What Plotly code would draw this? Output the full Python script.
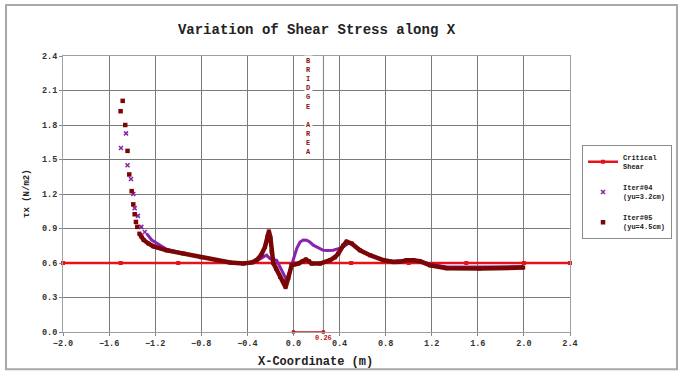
import plotly.graph_objects as go

# ---- data -------------------------------------------------------------
crit_x = [-2.0, -1.5, -1.0, -0.5, 0.0, 0.5, 1.0, 1.5, 2.0, 2.4]
crit_y = [0.6, 0.6, 0.6, 0.6, 0.6, 0.6, 0.6, 0.6, 0.6, 0.6]

# Iter#04 (yu = 3.2 cm): scattered points on the steep upstream rise
it04_head_x = [-1.497, -1.453, -1.44, -1.41, -1.39, -1.378, -1.35, -1.32, -1.29]
it04_head_y = [1.60, 1.727, 1.45, 1.33, 1.20, 1.077, 1.01, 0.914, 0.87]
# Iter#04 continuous profile
it04_x = [-1.274, -1.23, -1.15, -1.1, -0.956, -0.8, -0.667, -0.55, -0.436, -0.36,
          -0.30, -0.25, -0.233, -0.204, -0.146, -0.102, -0.059, -0.03, 0.005, 0.03,
          0.057, 0.085, 0.115, 0.145, 0.172, 0.215, 0.259, 0.30, 0.345, 0.39,
          0.432, 0.476, 0.505, 0.577, 0.664, 0.779, 0.866, 0.98, 1.098, 1.185,
          1.33, 1.618, 1.994]
it04_y = [0.856, 0.80, 0.75, 0.72, 0.685, 0.65, 0.625, 0.605, 0.595, 0.605,
          0.63, 0.66, 0.668, 0.638, 0.624, 0.537, 0.45, 0.537, 0.653, 0.73,
          0.783, 0.80, 0.798, 0.78, 0.755, 0.73, 0.711, 0.708, 0.711, 0.725,
          0.74, 0.769, 0.77, 0.711, 0.668, 0.63, 0.615, 0.625, 0.62, 0.59,
          0.565, 0.565, 0.57]

# Iter#05 (yu = 4.5 cm): scattered points on the steep upstream rise
it05_head_x = [-1.482, -1.50, -1.46, -1.44, -1.425, -1.404, -1.39, -1.378, -1.367, -1.355]
it05_head_y = [2.01, 1.92, 1.80, 1.575, 1.37, 1.225, 1.11, 1.024, 0.957, 0.914]
# Iter#05 continuous profile
it05_x = [-1.338, -1.32, -1.30, -1.26, -1.216, -1.1, -0.956, -0.8, -0.667, -0.55,
          -0.436, -0.36, -0.32, -0.28, -0.247, -0.225, -0.213, -0.20, -0.19, -0.175,
          -0.15, -0.117, -0.09, -0.068, -0.045, -0.016, 0.042, 0.08, 0.108, 0.135,
          0.158, 0.23, 0.317, 0.36, 0.389, 0.43, 0.461, 0.505, 0.577, 0.664,
          0.779, 0.866, 0.92, 0.982, 1.04, 1.098, 1.185, 1.33, 1.618, 1.994]
it05_y = [0.856, 0.83, 0.80, 0.77, 0.745, 0.71, 0.683, 0.65, 0.625, 0.605,
          0.595, 0.605, 0.625, 0.67, 0.74, 0.83, 0.875, 0.82, 0.70, 0.60,
          0.55, 0.48, 0.44, 0.39, 0.47, 0.58, 0.595, 0.615, 0.63, 0.615,
          0.595, 0.595, 0.624, 0.65, 0.682, 0.75, 0.785, 0.77, 0.711, 0.668,
          0.625, 0.609, 0.61, 0.625, 0.625, 0.615, 0.58, 0.555, 0.552, 0.56]

bridge_start = 0.0
bridge_width = 0.26

x_ticks = [-2.0, -1.6, -1.2, -0.8, -0.4, 0.0, 0.4, 0.8, 1.2, 1.6, 2.0, 2.4]
y_ticks = [0.0, 0.3, 0.6, 0.9, 1.2, 1.5, 1.8, 2.1, 2.4]

# ---- styling ----------------------------------------------------------
FONT = "Liberation Mono"
RED = "#e3141b"
PURPLE = "#8a22b0"
MAROON = "#7a0606"
GRID = "#7a7a7a"

fig = go.Figure()

fig.add_trace(go.Scatter(
    x=crit_x, y=crit_y, mode="lines+markers", name="Critical<br>Shear",
    legendgroup="c", line=dict(color=RED, width=2.5),
    marker=dict(symbol="square", size=4, color=RED), cliponaxis=False))

fig.add_trace(go.Scatter(
    x=it04_head_x, y=it04_head_y, mode="markers", name="Iter#04<br>(yu=3.2cm)",
    legendgroup="a", marker=dict(symbol="x-thin", size=4,
                                 line=dict(color=PURPLE, width=1.5), color=PURPLE)))
fig.add_trace(go.Scatter(
    x=it04_x, y=it04_y, mode="lines", legendgroup="a", showlegend=False,
    line=dict(color=PURPLE, width=3)))

fig.add_trace(go.Scatter(
    x=it05_head_x, y=it05_head_y, mode="markers", name="Iter#05<br>(yu=4.5cm)",
    legendgroup="b", marker=dict(symbol="square", size=4.5, color=MAROON)))
fig.add_trace(go.Scatter(
    x=it05_x, y=it05_y, mode="lines+markers", legendgroup="b", showlegend=False,
    line=dict(color=MAROON, width=4.5),
    marker=dict(symbol="square", size=4, color=MAROON)))

# bridge width dimension along the bed
fig.add_trace(go.Scatter(
    x=[bridge_start, bridge_start + bridge_width], y=[0.0, 0.0],
    mode="lines+markers", showlegend=False, cliponaxis=False,
    line=dict(color="#c0141b", width=1.5),
    marker=dict(symbol="circle", size=4, color="#c0141b")))

# downstream face of the bridge
fig.add_shape(type="line", xref="x", yref="y",
              x0=bridge_start + bridge_width, x1=bridge_start + bridge_width,
              y0=0, y1=2.4, line=dict(color=GRID, width=1), layer="below")

fig.add_annotation(x=bridge_start + bridge_width, y=0, yshift=-6, yanchor="middle",
                   showarrow=False, text=f"<b>{bridge_width:.2f}</b>",
                   font=dict(family=FONT, size=7, color="#c0141b"))

fig.add_annotation(x=bridge_start + bridge_width / 2, y=1.96, showarrow=False,
                   text="<b>B<br>R<br>I<br>D<br>G<br>E<br> <br>A<br>R<br>E<br>A</b>",
                   bgcolor="white", borderpad=1,
                   font=dict(family=FONT, size=7, color="#8b1010"))

# axis titles
fig.add_annotation(xref="paper", yref="paper", x=0.499, y=-0.11,
                   xanchor="center", yanchor="middle",
                   text="<b>X-Coordinate (m)</b>", showarrow=False,
                   font=dict(family=FONT, size=12, color="#222"))
fig.add_annotation(xref="paper", yref="paper", x=-0.071, y=0.5, textangle=-90,
                   xanchor="center", yanchor="middle",
                   text="<b>τx (N/m2)</b>", showarrow=False,
                   font=dict(family=FONT, size=9, color="#222"))

# outer frame
fig.add_shape(type="rect", xref="paper", yref="paper",
              x0=-0.1124, x1=1.211, y0=-0.1353, y1=1.185,
              line=dict(color="#a8a8a8", width=2), layer="below")

fig.update_layout(
    width=684, height=371,
    margin=dict(l=63, r=114, t=56, b=39),
    paper_bgcolor="white", plot_bgcolor="white",
    title=dict(text="<b>Variation of Shear Stress along X</b>",
               x=0.5, xref="paper", y=0.922, yanchor="middle",
               font=dict(family=FONT, size=14, color="#222")),
    showlegend=True,
    legend=dict(x=1.0237, y=0.677, xanchor="left", yanchor="top",
                bordercolor="#8c8c8c", borderwidth=1, bgcolor="white",
                font=dict(family=FONT, size=7, color="#222", weight="bold"),
                traceorder="grouped", tracegroupgap=9, itemwidth=30),
    xaxis=dict(range=[-2.0, 2.4], tickvals=x_ticks, tickformat=".1f",
               showgrid=True, gridcolor=GRID, gridwidth=1, zeroline=False,
               showline=True, linecolor="#a0a0a0", mirror=True,
               ticks="outside", ticklen=3, tickcolor="#888",
               tickfont=dict(family=FONT, size=8.5, color="#333", weight="bold")),
    yaxis=dict(range=[0.0, 2.4], tickvals=y_ticks, tickformat=".1f",
               showgrid=True, gridcolor=GRID, gridwidth=1, zeroline=False,
               showline=True, linecolor="#a0a0a0", mirror=True,
               ticks="outside", ticklen=3, tickcolor="#888",
               tickfont=dict(family=FONT, size=8.5, color="#333", weight="bold")),
)

fig.write_html("out.html")
